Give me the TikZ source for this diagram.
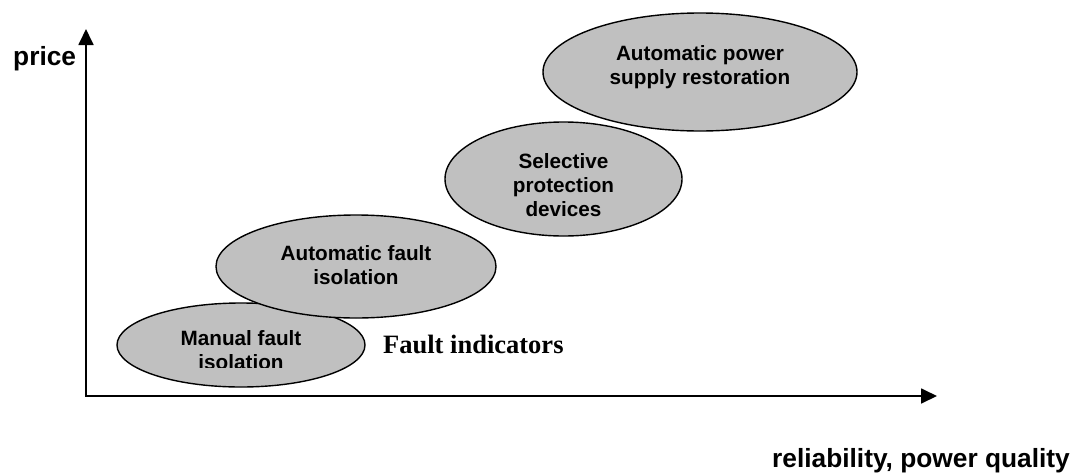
\documentclass[tikz,border=0pt]{standalone}
\usepackage{fontspec}
\setmainfont{Liberation Sans}
\newfontfamily\serifbold{Liberation Serif}
\usetikzlibrary{shapes.geometric,arrows.meta}
\definecolor{silver}{RGB}{192,192,192}
\begin{document}
\begin{tikzpicture}[x=1pt,y=-1pt,
  blob/.style={ellipse,draw=black,line width=1.4pt,fill=silver,inner sep=0pt},
  blobtext/.style={font=\fontsize{20.7}{24}\selectfont\bfseries,align=center,anchor=north,inner sep=0pt},
  axisline/.style={line width=1.8pt,{Triangle[length=16pt,width=15pt]}-{Triangle[length=16pt,width=15pt]}},
  axislabel/.style={font=\fontsize{26.3}{30}\selectfont\bfseries,inner sep=0pt}]
\useasboundingbox (0,0) rectangle (1076,474);
% axes
\coordinate (o) at (86,396);
\coordinate (ytip) at (86,29);
\coordinate (xtip) at (937,396);
\draw[axisline] (ytip) -- (o) -- (xtip);
\node[axislabel,anchor=base west] (price) at (13,65) {price};
\node[axislabel,anchor=base east] (rel) at (1070,467) {reliability, power quality};
% ellipses
\node[blob,minimum width=248pt,minimum height=84pt] (manual) at (241,345) {};
\node[blob,minimum width=280pt,minimum height=103pt] (autofault) at (356,266.5) {};
\node[blob,minimum width=237pt,minimum height=114pt] (selective) at (563.5,179) {};
\node[blob,minimum width=314pt,minimum height=118pt] (power) at (700,72) {};
% texts
\begin{scope}
\clip (100,290) rectangle (380,367);
\node[blobtext] (tmanual) at (241,330) {Manual fault\\isolation};
\end{scope}
\node[blobtext] (tautofault) at (356,245) {Automatic fault\\isolation};
\node[blobtext] (tselective) at (563.5,153) {Selective\\protection\\devices};
\node[blobtext] (tpower) at (700,45) {Automatic power\\supply restoration};
\node[font=\serifbold\fontsize{26.5}{30}\selectfont\bfseries,anchor=base west,inner sep=0pt] (fault) at (383,353) {Fault indicators};
\end{tikzpicture}
\end{document}
